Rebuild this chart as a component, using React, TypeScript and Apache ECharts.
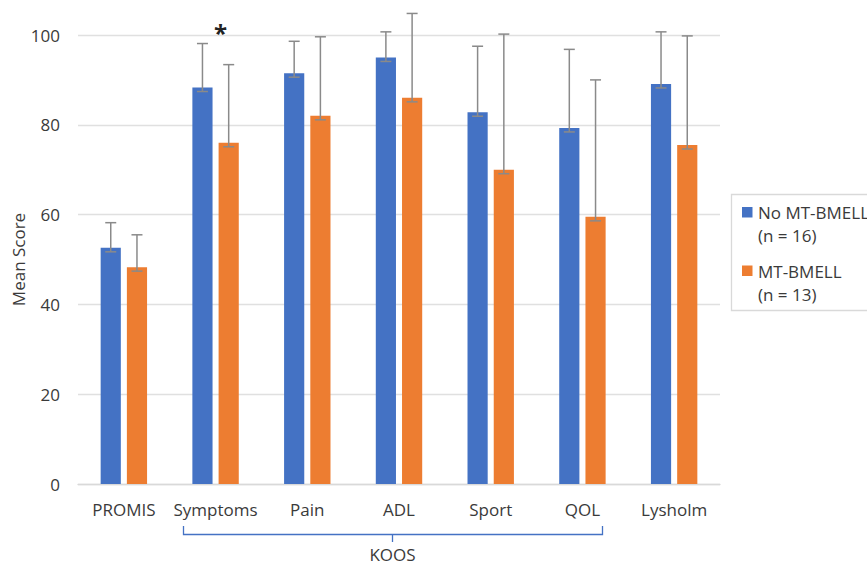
import React, { useEffect, useRef } from "react";
import * as echarts from "echarts";

const categories = ["PROMIS", "Symptoms", "Pain", "ADL", "Sport", "QOL", "Lysholm"];
const seriesNames = ["No MT-BMELL", "MT-BMELL"];
const seriesN = ["(n = 16)", "(n = 13)"];
const noMean = [52.6, 88.3, 91.5, 95.0, 82.8, 79.3, 89.1];
const noSD = [5.6, 9.8, 7.1, 5.7, 14.7, 17.5, 11.6];
const mtMean = [48.3, 76.0, 82.0, 86.0, 70.0, 59.5, 75.5];
const mtSD = [7.2, 17.4, 17.6, 18.8, 30.2, 30.5, 24.3];
const yTicks = [0, 20, 40, 60, 80, 100];
const yTitle = "Mean Score";
const groupLabel = "KOOS";
const sigMark = "*";

const BLUE = "#4472C4";
const ORANGE = "#ED7D31";
const FONT = "'Open Sans', sans-serif";
const TXT = "#3a3a3a";
const BAR_W = 0.22;
const BAR_GAP = 0.3;

function errData(mean: number[], sd: number[], side: number) {
  return mean.map((m, i) => [i, m + sd[i], m, side]);
}

export default function App() {
  const ref = useRef<HTMLDivElement>(null);
  useEffect(() => {
    const chart = echarts.init(ref.current!, null, { renderer: "svg" });
    const renderErr = (params: any, api: any) => {
      const xi = api.value(0);
      const hi = api.value(1);
      const base = api.value(2);
      const side = api.value(3);
      const band = api.size([1, 0])[0];
      const bw = band * BAR_W;
      const off = ((bw * (1 + BAR_GAP)) / 2) * side;
      const top = api.coord([xi, hi]);
      const bot = api.coord([xi, base]);
      const x = top[0] + off;
      const cap = 5.5;
      const st = { stroke: "#8a8a8a", lineWidth: 1.5 };
      return {
        type: "group",
        children: [
          { type: "line", shape: { x1: x, y1: top[1], x2: x, y2: bot[1] + 4 }, style: st },
          { type: "line", shape: { x1: x - cap, y1: top[1], x2: x + cap, y2: top[1] }, style: st },
          { type: "line", shape: { x1: x - cap, y1: bot[1] + 4, x2: x + cap, y2: bot[1] + 4 }, style: st },
        ],
      };
    };
    const legendItem = (i: number, y: number, color: string) => ({
      type: "group",
      children: [
        { type: "rect", shape: { x: 742, y: y - 5.5, width: 10.5, height: 10.5 }, style: { fill: color } },
        {
          type: "text",
          x: 758,
          y: y - 11.5,
          style: {
            text: seriesNames[i] + "\n" + seriesN[i],
            font: `17px ${FONT}`,
            lineHeight: 23,
            fill: TXT,
            verticalAlign: "top",
            align: "left",
          },
        },
      ],
    });
    chart.setOption({
      animation: false,
      grid: { left: 78, right: 147, top: 35, bottom: 77, containLabel: false, outerBoundsMode: "none" },
      xAxis: {
        type: "category",
        data: categories,
        axisLine: { lineStyle: { color: "#d9d9d9", width: 1.3 } },
        axisTick: { show: false },
        axisLabel: { color: TXT, fontFamily: FONT, fontSize: 17, margin: 17, interval: 0 },
      },
      yAxis: {
        type: "value",
        min: yTicks[0],
        max: yTicks[yTicks.length - 1],
        interval: 20,
        axisLine: { show: false },
        axisTick: { show: false },
        axisLabel: { color: TXT, fontFamily: FONT, fontSize: 17, margin: 18 },
        splitLine: { lineStyle: { color: "#e0e0e0", width: 1.3 } },
      },
      series: [
        {
          name: seriesNames[0],
          type: "bar",
          data: noMean,
          barWidth: BAR_W * 100 + "%",
          barGap: BAR_GAP * 100 + "%",
          itemStyle: { color: BLUE },
          markPoint: {
            symbol: "circle",
            symbolSize: 0,
            data: [
              {
                coord: [1, 100],
                label: {
                  show: true,
                  formatter: sigMark,
                  position: "inside",
                  offset: [18, -3],
                  color: "#222",
                  fontFamily: FONT,
                  fontSize: 24,
                  fontWeight: "bold",
                },
              },
            ],
          },
        },
        {
          name: seriesNames[1],
          type: "bar",
          data: mtMean,
          barWidth: BAR_W * 100 + "%",
          barGap: BAR_GAP * 100 + "%",
          itemStyle: { color: ORANGE },
        },
        {
          type: "custom",
          renderItem: renderErr,
          data: errData(noMean, noSD, -1),
          encode: { x: 0, y: 1 },
          z: 5,
          clip: false,
        },
        {
          type: "custom",
          renderItem: renderErr,
          data: errData(mtMean, mtSD, 1),
          encode: { x: 0, y: 1 },
          z: 5,
          clip: false,
        },
      ],
      graphic: [
        {
          type: "text",
          x: 18.5,
          y: 259.5,
          rotation: Math.PI / 2,
          style: { text: yTitle, font: `17px ${FONT}`, fill: TXT, align: "center", verticalAlign: "middle" },
        },
        {
          type: "rect",
          shape: { x: 731.5, y: 194.5, width: 200, height: 116 },
          style: { fill: "#fff", stroke: "#d9d9d9", lineWidth: 1.3 },
        },
        legendItem(0, 212.5, BLUE),
        legendItem(1, 271, ORANGE),
        {
          type: "polyline",
          shape: { points: [[183.5, 526], [183.5, 534.5], [602.5, 534.5], [602.5, 526]] },
          style: { stroke: BLUE, lineWidth: 1.3, fill: "none" },
        },
        {
          type: "line",
          shape: { x1: 392.5, y1: 534.5, x2: 392.5, y2: 542 },
          style: { stroke: BLUE, lineWidth: 1.3 },
        },
        {
          type: "text",
          x: 392.5,
          y: 554,
          style: { text: groupLabel, font: `17px ${FONT}`, fill: TXT, align: "center", verticalAlign: "middle" },
        },
      ],
    });
    return () => chart.dispose();
  }, []);
  return <div ref={ref} style={{ width: 867, height: 561, position: "absolute", left: 0, top: 0 }} />;
}
